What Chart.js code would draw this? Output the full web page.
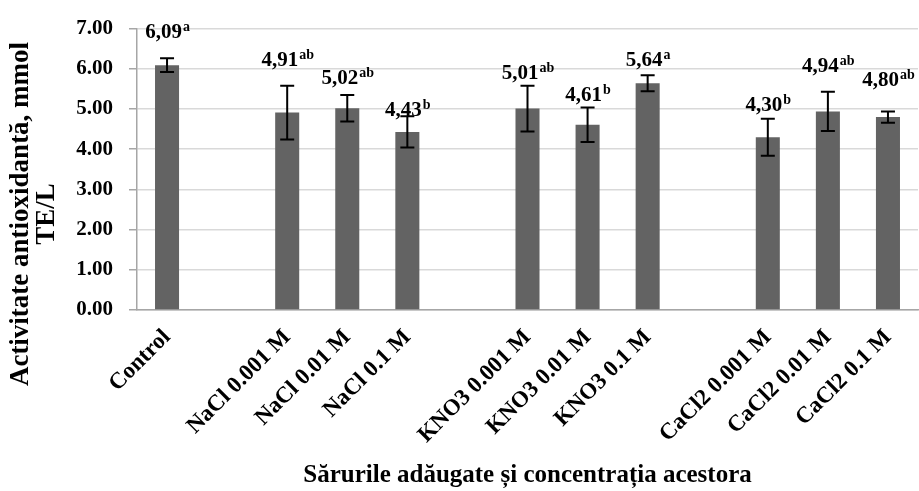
<!DOCTYPE html>
<html>
<head>
<meta charset="utf-8">
<script src="https://cdn.jsdelivr.net/npm/chart.js@4.4.0/dist/chart.umd.min.js"></script>
<style>
  body { margin: 0; background: #fff; }
</style>
</head>
<body>
<canvas id="chart" width="919" height="491"></canvas>
<script>
// values; empty slots are the gaps between the salt groups
const categories = ['Control', '', 'NaCl 0.001 M', 'NaCl 0.01 M', 'NaCl 0.1 M', '',
  'KNO3 0.001 M', 'KNO3 0.01 M', 'KNO3 0.1 M', '', 'CaCl2 0.001 M', 'CaCl2 0.01 M', 'CaCl2 0.1 M'];
const values = [6.09, null, 4.91, 5.02, 4.43, null, 5.01, 4.61, 5.64, null, 4.30, 4.94, 4.80];
const errors = [0.17, null, 0.67, 0.33, 0.39, null, 0.57, 0.43, 0.20, null, 0.46, 0.49, 0.14];
const valueLabels = ['6,09', '', '4,91', '5,02', '4,43', '', '5,01', '4,61', '5,64', '', '4,30', '4,94', '4,80'];
const letters = ['a', '', 'ab', 'ab', 'b', '', 'ab', 'b', 'a', '', 'b', 'ab', 'ab'];
// where each label baseline sits, in axis units (labels were moved by hand in the original)
const labelAt = [6.77, null, 6.07, 5.62, 4.82, null, 5.75, 5.21, 6.07, null, 4.94, 5.91, 5.58];
const yTitle = ['Activitate antioxidantă, mmol', 'TE/L'];
const xTitle = 'Sărurile adăugate și concentrația acestora';

const FONT = '"Liberation Serif", "Times New Roman", serif';

const errorBars = {
  id: 'errorBars',
  afterDatasetsDraw(chart) {
    const { ctx, scales: { x, y } } = chart;
    ctx.save();
    ctx.strokeStyle = '#000';
    ctx.lineWidth = 2;
    values.forEach(function(v, i) {
      if (v === null) return;
      const px = x.getPixelForValue(i);
      const top = y.getPixelForValue(v + errors[i]);
      const bot = y.getPixelForValue(v - errors[i]);
      ctx.beginPath();
      ctx.moveTo(px, top); ctx.lineTo(px, bot);
      ctx.moveTo(px - 7, top); ctx.lineTo(px + 7, top);
      ctx.moveTo(px - 7, bot); ctx.lineTo(px + 7, bot);
      ctx.stroke();
    });
    ctx.restore();
  }
};

const valueText = {
  id: 'valueText',
  afterDraw(chart) {
    const { ctx, scales: { x, y } } = chart;
    ctx.save();
    ctx.fillStyle = '#000';
    ctx.textBaseline = 'alphabetic';
    ctx.textAlign = 'left';
    values.forEach(function(v, i) {
      if (v === null) return;
      const px = x.getPixelForValue(i);
      const base = y.getPixelForValue(labelAt[i]);
      ctx.font = 'bold 21px ' + FONT;
      const w1 = ctx.measureText(valueLabels[i]).width;
      ctx.font = 'bold 14px ' + FONT;
      const w2 = ctx.measureText(letters[i]).width;
      const start = px - (w1 + w2) / 2;
      ctx.font = 'bold 21px ' + FONT;
      ctx.fillText(valueLabels[i], start, base);
      ctx.font = 'bold 14px ' + FONT;
      ctx.fillText(letters[i], start + w1 + 1, base - 7);
    });

    // y axis title, two lines, rotated
    ctx.font = 'bold 27px ' + FONT;
    ctx.textAlign = 'center';
    ctx.textBaseline = 'middle';
    ctx.translate(0, 214);
    ctx.rotate(-Math.PI / 2);
    ctx.fillText(yTitle[0], 0, 21);
    ctx.fillText(yTitle[1], 0, 47);
    ctx.restore();
  }
};

new Chart(document.getElementById('chart'), {
  type: 'bar',
  data: {
    labels: categories,
    datasets: [{
      data: values,
      backgroundColor: '#636363',
      barPercentage: 0.4,
      categoryPercentage: 1
    }]
  },
  options: {
    responsive: false,
    animation: false,
    layout: { padding: { top: 24, right: 1, left: 0, bottom: 0 } },
    plugins: {
      legend: { display: false },
      tooltip: { enabled: false }
    },
    scales: {
      x: {
        grid: { display: false },
        border: { display: true, color: '#a6a6a6', width: 1.5 },
        ticks: {
          color: '#000',
          font: { family: FONT, weight: 'bold', size: 23 },
          minRotation: 45,
          maxRotation: 45,
          autoSkip: false,
          padding: 6
        },
        title: {
          display: true,
          text: xTitle,
          color: '#000',
          font: { family: FONT, weight: 'bold', size: 25 },
          padding: { top: 0, bottom: 0 }
        },
        afterFit(scale) { scale.height = 181; }
      },
      y: {
        min: 0,
        max: 7,
        grid: { color: '#d9d9d9', lineWidth: 1.5, tickLength: 8, tickColor: '#a6a6a6' },
        border: { display: true, color: '#a6a6a6', width: 1.5 },
        ticks: {
          stepSize: 1,
          color: '#000',
          padding: 16,
          font: { family: FONT, weight: 'bold', size: 21 },
          callback: function(v) { return Number(v).toFixed(2); }
        },
        afterFit(scale) { scale.width = 137; }
      }
    }
  },
  plugins: [errorBars, valueText]
});
</script>
</body>
</html>
